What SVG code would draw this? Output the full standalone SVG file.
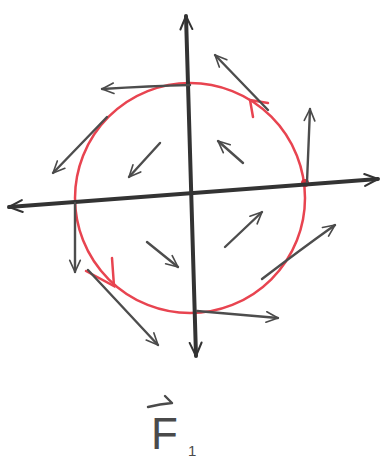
<svg xmlns="http://www.w3.org/2000/svg" width="382" height="460" viewBox="0 0 382 460">
<defs>
<marker id="h" viewBox="0 0 12 12" refX="11" refY="6" markerWidth="14" markerHeight="14" markerUnits="userSpaceOnUse" orient="auto-start-reverse">
<path d="M1,1.5 L11,6 L1,10.5" fill="none" stroke="#4a4a4a" stroke-width="1.4" stroke-linecap="round" stroke-linejoin="round"/>
</marker>
<marker id="hb" viewBox="0 0 12 12" refX="11" refY="6" markerWidth="16" markerHeight="16" markerUnits="userSpaceOnUse" orient="auto-start-reverse">
<path d="M1,1.5 L11,6 L1,10.5" fill="none" stroke="#333" stroke-width="1.5" stroke-linecap="round" stroke-linejoin="round"/>
</marker>
<style>
.ax{fill:none;stroke:#333;stroke-width:4;stroke-linecap:round}
.ar{fill:none;stroke:#4d4d4d;stroke-width:2.4;stroke-linecap:round}
.red{fill:none;stroke:#e84450;stroke-width:2.5;stroke-linecap:round}
.lbl{font-family:"Liberation Sans",Arial,sans-serif;fill:#4a4a4a}
</style>
</defs>
<rect width="382" height="460" fill="#ffffff"/>
<g id="circle">
<ellipse cx="190" cy="198" rx="115" ry="115" class="red"/>
<path class="red" d="M268,103 L250,100 L253,117"/>
<path class="red" d="M112,258 L114,286 L86,271"/>
<circle cx="305" cy="183" r="4" fill="#d9333f"/>
</g>
<g id="axes">
<line class="ax" x1="186" y1="16" x2="196" y2="356" marker-start="url(#hb)" marker-end="url(#hb)"/>
<line class="ax" x1="9" y1="207" x2="378" y2="179" marker-start="url(#hb)" marker-end="url(#hb)"/>
</g>
<g id="connectors">
<path class="ar" d="M190,85 Q150,86 102,89" marker-end="url(#h)"/>
<line class="ar" x1="268" y1="110" x2="215" y2="55" marker-end="url(#h)"/>
<line class="ar" x1="307" y1="182" x2="310" y2="109" marker-end="url(#h)"/>
<line class="ar" x1="107" y1="117" x2="53" y2="173" marker-end="url(#h)"/>
<line class="ar" x1="160" y1="143" x2="129" y2="177" marker-end="url(#h)"/>
<line class="ar" x1="243" y1="163" x2="218" y2="141" marker-end="url(#h)"/>
<line class="ar" x1="75" y1="203" x2="75" y2="272" marker-end="url(#h)"/>
<line class="ar" x1="147" y1="242" x2="178" y2="267" marker-end="url(#h)"/>
<line class="ar" x1="225" y1="247" x2="262" y2="212" marker-end="url(#h)"/>
<path class="ar" d="M262,279 Q300,250 335,225" marker-end="url(#h)"/>
<line class="ar" x1="197" y1="311" x2="278" y2="318" marker-end="url(#h)"/>
<line class="ar" x1="88" y1="270" x2="158" y2="345" marker-end="url(#h)"/>
</g>
<g id="label">
<path d="M148,407 Q160,404 172,403 L165,396" fill="none" stroke="#4a4a4a" stroke-width="2.4" stroke-linecap="round" stroke-linejoin="round"/>
<text class="lbl" x="151" y="449" font-size="44">F</text>
<text class="lbl" x="188" y="456" font-size="15">1</text>
</g>
</svg>
